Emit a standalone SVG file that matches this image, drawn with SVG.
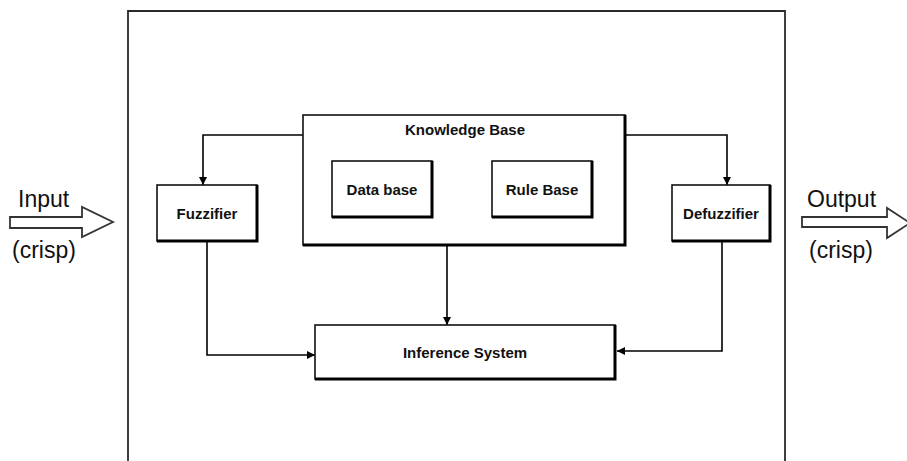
<svg xmlns="http://www.w3.org/2000/svg" width="907" height="461" viewBox="0 0 907 461">
<style>
.box{fill:#fff;stroke:#111;stroke-width:1.6}
.sh{fill:none;stroke:#000;stroke-width:3}
.lbl{font-family:"Liberation Sans",Arial,sans-serif;font-size:15px;font-weight:bold;fill:#111;text-anchor:middle}
.big{font-family:"Liberation Sans",Arial,sans-serif;font-size:23px;fill:#111}
.con{fill:none;stroke:#000;stroke-width:1.6}
.blk{fill:#fff;stroke:#333;stroke-width:1.8;stroke-linejoin:miter}
</style>
<defs>
<marker id="ah" viewBox="0 0 10 10" refX="10" refY="5" markerWidth="8" markerHeight="8" markerUnits="userSpaceOnUse" orient="auto">
<path d="M0,0 L10,5 L0,10 z" fill="#000"/>
</marker>
</defs>
<rect width="907" height="461" fill="#fff"/>
<g id="frame">
<path d="M128,461 V11 H785 V461" fill="none" stroke="#2a2a2a" stroke-width="1.8"/>
</g>
<g id="input">
<polygon class="blk" points="10,217 82,217 82,207 113,222 82,237 82,228 10,228"/>
<text class="big" x="18" y="207">Input</text>
<text class="big" x="12" y="258">(crisp)</text>
</g>
<g id="output">
<polygon class="blk" points="802,217 887,217 887,208 910,223 887,238 887,227 802,227"/>
<text class="big" x="807" y="207">Output</text>
<text class="big" x="809" y="258">(crisp)</text>
</g>
<g id="connectors">
<path class="con" d="M303,135 H203 V185" marker-end="url(#ah)"/>
<path class="con" d="M625,135 H727 V185" marker-end="url(#ah)"/>
<path class="con" d="M447,245 V325" marker-end="url(#ah)"/>
<path class="con" d="M207,241 V355 H315" marker-end="url(#ah)"/>
<path class="con" d="M722,241 V351 H617" marker-end="url(#ah)"/>
</g>
<g id="fuzzifier">
<rect class="box" x="157" y="185" width="100" height="56"/>
<path class="sh" d="M257,185 V241 H157"/>
<text class="lbl" x="207" y="219">Fuzzifier</text>
</g>
<g id="knowledge-base">
<rect class="box" x="303" y="115" width="322" height="130"/>
<path class="sh" d="M625,115 V245 H303"/>
<text class="lbl" x="465" y="135">Knowledge Base</text>
</g>
<g id="data-base">
<rect class="box" x="332" y="161" width="100" height="56"/>
<path class="sh" d="M432,161 V217 H332"/>
<text class="lbl" x="382" y="195">Data base</text>
</g>
<g id="rule-base">
<rect class="box" x="492" y="161" width="100" height="56"/>
<path class="sh" d="M592,161 V217 H492"/>
<text class="lbl" x="542" y="195">Rule Base</text>
</g>
<g id="defuzzifier">
<rect class="box" x="672" y="185" width="98" height="56"/>
<path class="sh" d="M770,185 V241 H672"/>
<text class="lbl" x="721" y="219">Defuzzifier</text>
</g>
<g id="inference">
<rect class="box" x="315" y="325" width="300" height="54"/>
<path class="sh" d="M615,325 V379 H315"/>
<text class="lbl" x="465" y="358">Inference System</text>
</g>
</svg>
